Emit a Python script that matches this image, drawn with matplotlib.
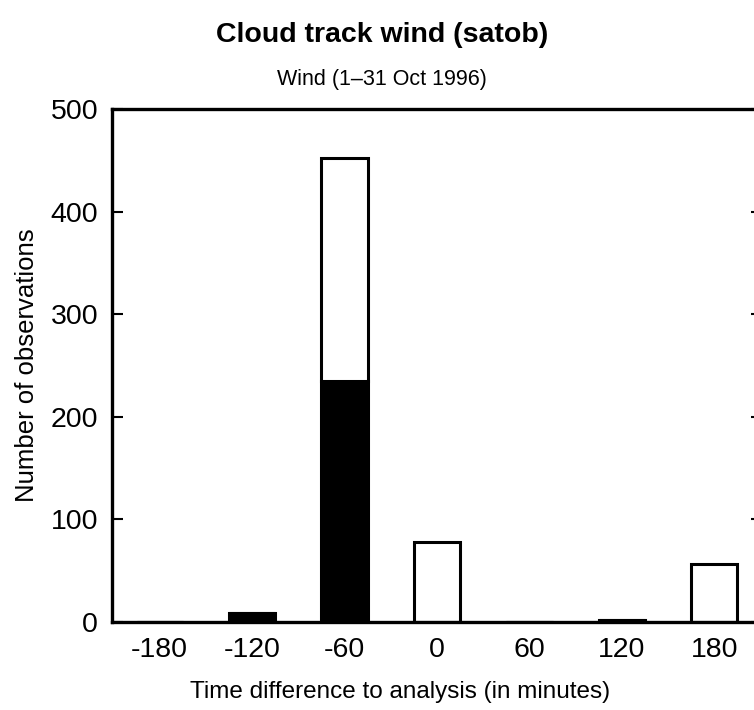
import matplotlib.pyplot as plt
import numpy as np

# data
minutes = [-180, -120, -60, 0, 60, 120, 180]
black_counts = [0, 9, 235, 0, 0, 2, 0]
total_counts = [0, 9, 452, 78, 0, 2, 57]

plt.rcParams['font.family'] = ['Liberation Sans', 'DejaVu Sans']

fig = plt.figure(figsize=(7.54, 7.10), dpi=100)
ax = fig.add_axes([112 / 754, 88 / 710, 650 / 754, 513 / 710])

white_part = np.array(total_counts) - np.array(black_counts)
ax.bar(minutes, black_counts, width=30, color='black', edgecolor='black', linewidth=2.2)
ax.bar(minutes, white_part, width=30, bottom=black_counts, color='white',
       edgecolor='black', linewidth=2.2)

ax.set_xlim(-211, 211)
ax.set_ylim(0, 500)
ax.set_xticks(minutes)
ax.set_xticklabels([str(m) for m in minutes])
ax.set_yticks(range(0, 501, 100))
ax.tick_params(axis='x', length=0, labelsize=20.5, pad=11)
ax.tick_params(axis='y', direction='in', length=8, width=1.5, labelsize=20.5,
               right=True, pad=10)
for s in ax.spines.values():
    s.set_linewidth(2.4)

ax.set_ylabel('Number of observations', fontsize=18.5, labelpad=8)
fig.text(400 / 754, 1 - 692 / 710, 'Time difference to analysis (in minutes)',
         ha='center', va='center', fontsize=17.5)
fig.text(382 / 754, 1 - 35 / 710, 'Cloud track wind (satob)',
         ha='center', va='center', fontsize=20.5, fontweight='bold')
fig.text(382 / 754, 1 - 80 / 710, 'Wind (1\u201331 Oct 1996)',
         ha='center', va='center', fontsize=15.5)

fig.savefig('out.png', dpi=100)
